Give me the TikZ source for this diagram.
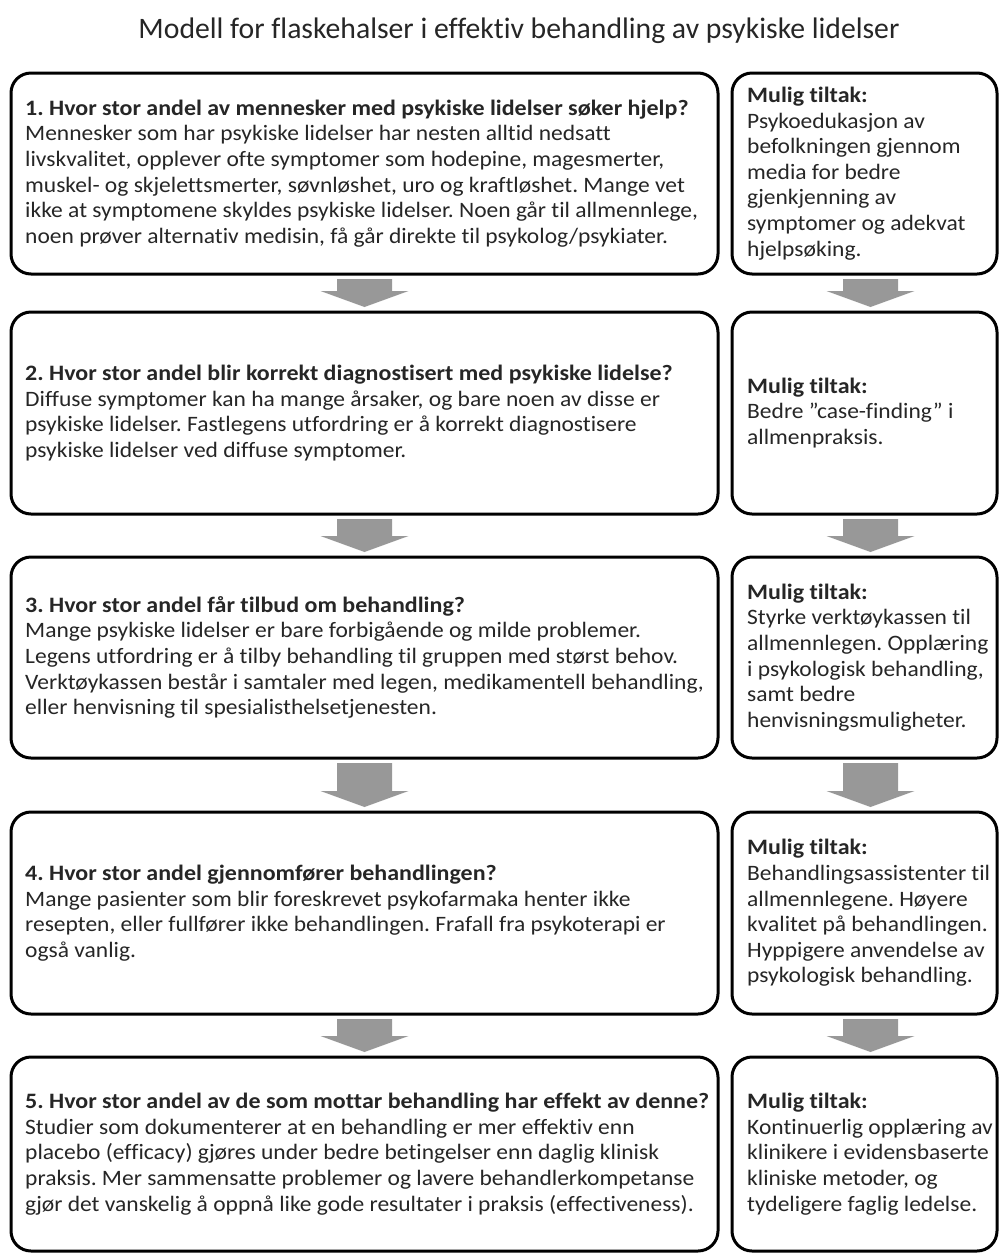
\documentclass[tikz,border=0pt]{standalone}
\usepackage{fontspec}
\setmainfont{Carlito}[FakeStretch=1.068, Ligatures=NoCommon]
\newfontfamily\titlefont{Carlito}[Ligatures=NoCommon]
\newfontfamily\headfont{Carlito}[FakeStretch=1.09, Ligatures=NoCommon]
\newcommand{\qhead}[1]{{\headfont\bfseries #1}}
\frenchspacing
\usetikzlibrary{calc}
\definecolor{inkgray}{RGB}{38,38,38}
\definecolor{arrowgray}{RGB}{152,152,152}
\tikzset{
  qbox/.style={draw=black, line width=3pt, rounded corners=20pt, outer sep=0pt,
    inner sep=0pt, minimum width=707pt, minimum height=#1},
  tbox/.style={draw=black, line width=3pt, rounded corners=20pt, outer sep=0pt,
    inner sep=0pt, minimum width=265pt, minimum height=#1},
  bodytext/.style={anchor=west, align=left, inner sep=0pt, text=inkgray,
    font=\fontsize{22}{25.6}\selectfont},
  titletext/.style={text=inkgray, inner sep=0pt, font=\titlefont\fontsize{29.7}{34}\selectfont}
}
% grey block arrow in the gap between two boxes
\newcommand{\gaparrow}[3][0pt]{%
  \fill[arrowgray] let \p1=($(#2.south)+(#1,0)$), \p2=(#3.north) in
    (\x1-27.5pt,\y1-5pt) -- (\x1+27.5pt,\y1-5pt) -- (\x1+27.5pt,\y2+21pt)
    -- (\x1+44pt,\y2+21pt) -- (\x1,\y2+5pt) -- (\x1-44pt,\y2+21pt)
    -- (\x1-27.5pt,\y2+21pt) -- cycle;}
\begin{document}
\begin{tikzpicture}[x=1pt, y=-1pt]
  \useasboundingbox[fill=white] (0,0) rectangle (1000,1254);
  \node[titletext] (title) at (519,31) {Modell for flaskehalser i effektiv behandling av psykiske lidelser};

  % questions (left) and measures (right)
  \node[qbox=201pt] (q1) at (364.5,173.5) {};
  \node[qbox=202pt] (q2) at (364.5,413) {};
  \node[qbox=201pt] (q3) at (364.5,657.5) {};
  \node[qbox=202pt] (q4) at (364.5,913) {};
  \node[qbox=194pt] (q5) at (364.5,1154) {};
  \node[tbox=201pt] (t1) at (864.5,173.5) {};
  \node[tbox=202pt] (t2) at (864.5,413) {};
  \node[tbox=201pt] (t3) at (864.5,657.5) {};
  \node[tbox=202pt] (t4) at (864.5,913) {};
  \node[tbox=194pt] (t5) at (864.5,1154) {};

  \node[bodytext] (q1text) at ([xshift=14pt]q1.west) {\qhead{1. Hvor stor andel av mennesker med psykiske lidelser søker hjelp?}\\
    Mennesker som har psykiske lidelser har nesten alltid nedsatt\\
    livskvalitet, opplever ofte symptomer som hodepine, magesmerter,\\
    muskel- og skjelettsmerter, søvnløshet, uro og kraftløshet. Mange vet\\
    ikke at symptomene skyldes psykiske lidelser. Noen går til allmennlege,\\
    noen prøver alternativ medisin, få går direkte til psykolog/psykiater.};
  \node[bodytext] (q2text) at ([xshift=14pt]q2.west) {\qhead{2. Hvor stor andel blir korrekt diagnostisert med psykiske lidelse?}\\
    Diffuse symptomer kan ha mange årsaker, og bare noen av disse er\\
    psykiske lidelser. Fastlegens utfordring er å korrekt diagnostisere\\
    psykiske lidelser ved diffuse symptomer.};
  \node[bodytext] (q3text) at ([xshift=14pt]q3.west) {\qhead{3. Hvor stor andel får tilbud om behandling?}\\
    Mange psykiske lidelser er bare forbigående og milde problemer.\\
    Legens utfordring er å tilby behandling til gruppen med størst behov.\\
    Verktøykassen består i samtaler med legen, medikamentell behandling,\\
    eller henvisning til spesialisthelsetjenesten.};
  \node[bodytext] (q4text) at ([xshift=14pt]q4.west) {\qhead{4. Hvor stor andel gjennomfører behandlingen?}\\
    Mange pasienter som blir foreskrevet psykofarmaka henter ikke\\
    resepten, eller fullfører ikke behandlingen. Frafall fra psykoterapi er\\
    også vanlig.};
  \node[bodytext] (q5text) at ([xshift=14pt]q5.west) {\qhead{5. Hvor stor andel av de som mottar behandling har effekt av denne?}\\
    Studier som dokumenterer at en behandling er mer effektiv enn\\
    placebo (efficacy) gjøres under bedre betingelser enn daglig klinisk\\
    praksis. Mer sammensatte problemer og lavere behandlerkompetanse\\
    gjør det vanskelig å oppnå like gode resultater i praksis (effectiveness).};

  \node[bodytext] (t1text) at ([xshift=15pt]t1.west) {\qhead{Mulig tiltak:}\\
    Psykoedukasjon av\\ befolkningen gjennom\\ media for bedre\\
    gjenkjenning av\\ symptomer og adekvat\\ hjelpsøking.};
  \node[bodytext] (t2text) at ([xshift=15pt]t2.west) {\qhead{Mulig tiltak:}\\
    Bedre ”case-finding” i\\ allmenpraksis.};
  \node[bodytext] (t3text) at ([xshift=15pt]t3.west) {\qhead{Mulig tiltak:}\\
    Styrke verktøykassen til\\ allmennlegen. Opplæring\\
    i psykologisk behandling,\\ samt bedre\\ henvisningsmuligheter.};
  \node[bodytext] (t4text) at ([xshift=15pt]t4.west) {\qhead{Mulig tiltak:}\\
    Behandlingsassistenter til\\ allmennlegene. Høyere\\
    kvalitet på behandlingen.\\ Hyppigere anvendelse av\\ psykologisk behandling.};
  \node[bodytext] (t5text) at ([xshift=15pt]t5.west) {\qhead{Mulig tiltak:}\\
    Kontinuerlig opplæring av\\ klinikere i evidensbaserte\\
    kliniske metoder, og\\ tydeligere faglig ledelse.};

  % arrows between the rows
  \gaparrow{q1}{q2}
  \gaparrow{q2}{q3}
  \gaparrow{q3}{q4}
  \gaparrow{q4}{q5}
  \gaparrow[6pt]{t1}{t2}
  \gaparrow[6pt]{t2}{t3}
  \gaparrow[6pt]{t3}{t4}
  \gaparrow[6pt]{t4}{t5}
\end{tikzpicture}
\end{document}
